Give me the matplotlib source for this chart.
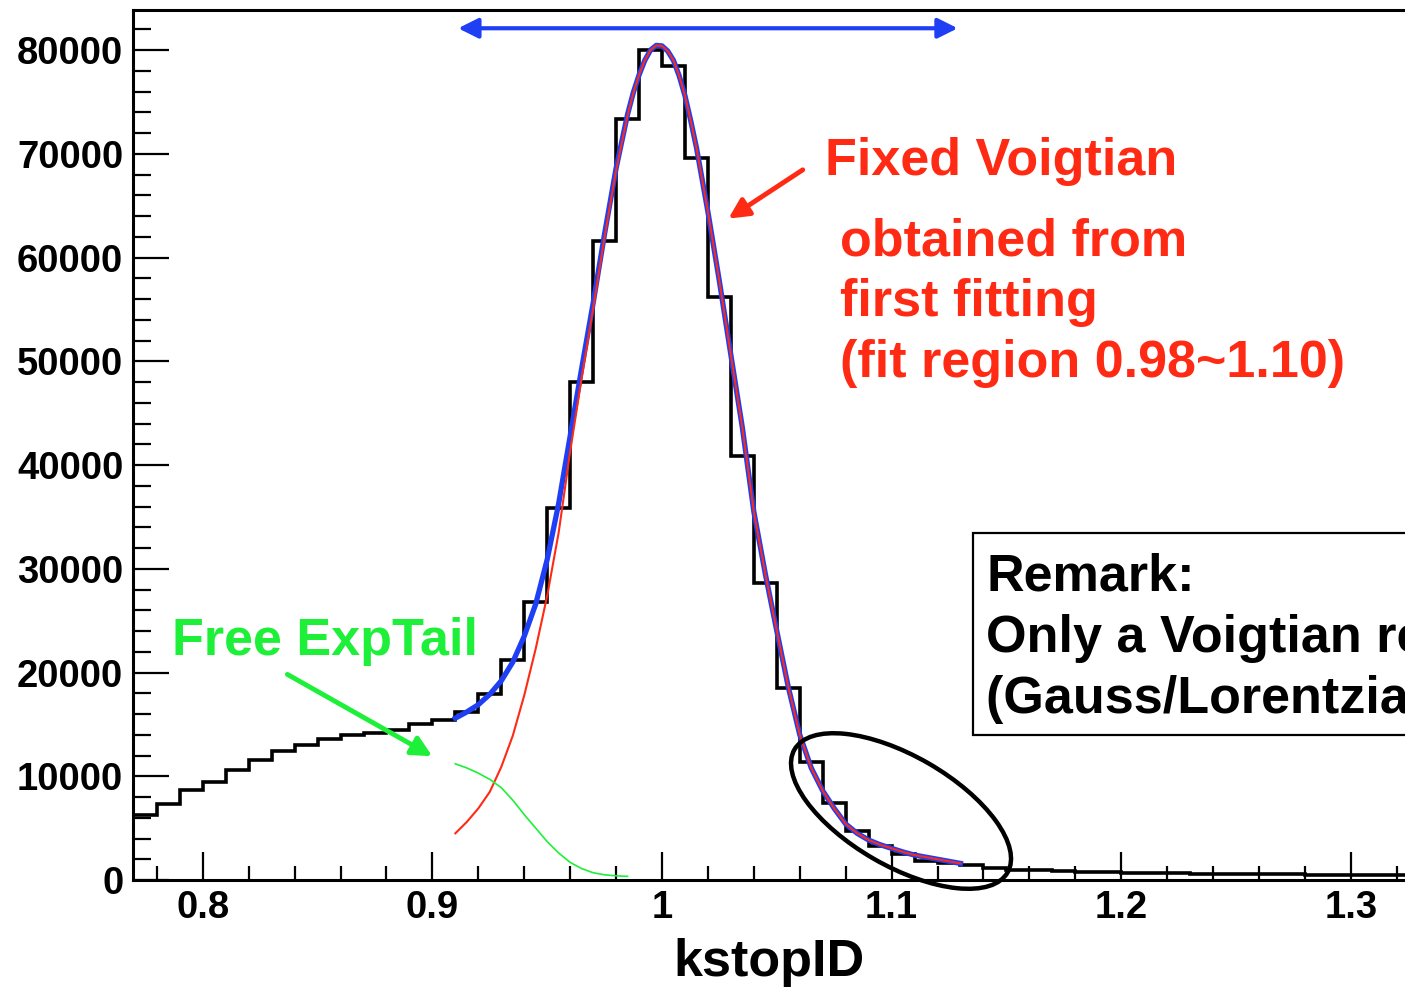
import numpy as np
import matplotlib
matplotlib.use('Agg')
from matplotlib import pyplot as plt
from matplotlib.patches import Ellipse, Rectangle
from matplotlib.transforms import ScaledTranslation

plt.rcParams['font.family'] = ['Liberation Sans', 'DejaVu Sans']
plt.rcParams['font.weight'] = 'bold'

# histogram (bin width 0.01), counts
bin_edges = np.round(np.arange(0.77, 1.3301, 0.01), 2)
counts = [6300, 7300, 8700, 9400, 10600, 11600, 12400, 13000, 13600, 14000,
          14200, 14500, 15000, 15400, 16200, 17900, 21200, 26800, 35900, 48000,
          61600, 73400, 80000, 78500, 69600, 56200, 40900, 28600, 18500, 11400,
          7400, 4750, 3300, 2500, 1800, 1600, 1450, 1150, 1000, 920,
          850, 800, 750, 720, 680, 650, 620, 600, 580, 560,
          540, 520, 500, 480, 460, 450]

# fit curves
fit_x = [0.910, 0.915, 0.920, 0.925, 0.930, 0.935, 0.940, 0.945, 0.950, 0.955,
         0.960, 0.965, 0.970, 0.975, 0.980, 0.985, 0.9875, 0.990, 0.9925, 0.995,
         0.9975, 1.000, 1.0025, 1.005, 1.0075, 1.010, 1.0125, 1.015, 1.020, 1.025,
         1.030, 1.035, 1.040, 1.045, 1.050, 1.055, 1.060, 1.065, 1.070, 1.075,
         1.080, 1.085, 1.090, 1.095, 1.100, 1.105, 1.110, 1.115, 1.120, 1.125,
         1.130]
total_fit = [15600, 16200, 16900, 17900, 19200, 21000, 23500, 26600, 30900, 36300,
             42800, 49300, 55600, 62300, 68600, 73800, 75900, 77600, 79000, 80000,
             80450, 80400, 79900, 79000, 77500, 75600, 73200, 70600, 64400, 57700,
             50600, 43600, 35500, 29500, 24000, 18600, 14000, 10800, 8600, 6900,
             5400, 4500, 3850, 3400, 3050, 2700, 2400, 2200, 2000, 1800,
             1600]
voigt_fit = [4500, 5600, 6900, 8500, 10900, 13900, 17800, 22300, 27400, 33500,
             41300, 48400, 55100, 62000, 68400, 73700, 75850, 77600, 79000, 80000,
             80450, 80400, 79900, 79000, 77500, 75600, 73200, 70600, 64400, 57700,
             50600, 43600, 35500, 29500, 24000, 18600, 14000, 10800, 8600, 6900,
             5400, 4500, 3850, 3400, 3050, 2700, 2400, 2200, 2000, 1800,
             1600]
tail_x = [0.910, 0.915, 0.920, 0.925, 0.930, 0.935, 0.940, 0.945, 0.950, 0.955,
          0.960, 0.965, 0.970, 0.975, 0.980, 0.985]
tail_fit = [11200, 10800, 10300, 9700, 8900, 7700, 6300, 5000, 3700, 2600,
            1700, 1100, 700, 500, 400, 350]

fit_range = [0.91, 1.13]

blue = '#1f3ff5'
red = '#ff2a14'
green = '#1ef03a'

fig = plt.figure(figsize=(14.05, 9.88), dpi=100)
ax = fig.add_axes([133 / 1405, 108 / 988, 1 - 133 / 1405, 870 / 988])
ax.set_xlim(0.7696, 1.3236)
ax.set_ylim(0, 83860)

ax.stairs(counts, bin_edges, baseline=None, color='black', lw=2.6, zorder=3)
ax.plot(fit_x, total_fit, color=blue, lw=3.8, zorder=4, solid_joinstyle='round')
ax.plot(fit_x, voigt_fit, color=red, lw=1.5, zorder=5)
ax.plot(tail_x, tail_fit, color=green, lw=1.2, zorder=5)

# axes in ROOT style
for s in ['left', 'bottom', 'top']:
    ax.spines[s].set_linewidth(2.2)
ax.spines['right'].set_visible(False)
ax.set_xticks(np.arange(0.8, 1.31, 0.1))
ax.set_xticklabels(['0.8', '0.9', '1', '1.1', '1.2', '1.3'])
ax.set_xticks(np.arange(0.78, 1.33, 0.02), minor=True)
ax.set_yticks(np.arange(0, 80001, 10000))
ax.set_yticks(np.arange(0, 83001, 2000), minor=True)
ax.tick_params(which='both', direction='in', width=1.6, labelsize=27.5, pad=7)
ax.tick_params(axis='x', which='major', length=20)
ax.tick_params(axis='x', which='minor', length=10)
ax.tick_params(axis='y', which='major', length=26)
ax.tick_params(axis='y', which='minor', length=13)
ax.set_xlabel('kstopID', fontsize=37.5, fontweight='bold', labelpad=9)

# annotations
ax.annotate('', xy=(fit_range[0], 82100), xytext=(fit_range[1], 82100),
            arrowprops=dict(arrowstyle='<|-|>', color=blue, lw=3, mutation_scale=30))

ax.text(1.071, 67950, 'Fixed Voigtian', color=red, fontsize=37.5, fontweight='bold')
ax.annotate('', xy=(1.0279, 63600), xytext=(1.0623, 68600),
            arrowprops=dict(arrowstyle='-|>', color=red, lw=3.5, mutation_scale=30))
red_lines = ['obtained from', 'first fitting', '(fit region 0.98~1.10)']
for i, line in enumerate(red_lines):
    ax.text(1.0777, 60200 - i * 5850, line, color=red, fontsize=37.5, fontweight='bold')

ax.text(0.7866, 21700, 'Free ExpTail', color=green, fontsize=37.5, fontweight='bold')
ax.annotate('', xy=(0.9010, 11800), xytext=(0.8358, 19950),
            arrowprops=dict(arrowstyle='-|>', color=green, lw=3.5, mutation_scale=30))

# ellipse around the right tail
trans = fig.dpi_scale_trans + ScaledTranslation(1.1041, 6650, ax.transData)
ax.add_patch(Ellipse((0, 0), 2.46, 1.10, angle=-30, fill=False, lw=3.2,
                     edgecolor='black', transform=trans, clip_on=False, zorder=6))

# remark box, cut by the figure edge as in the original slide
ax.add_patch(Rectangle((1.1356, 14000), 0.3, 19400, facecolor='white',
                       edgecolor='black', lw=1.6, clip_on=False, zorder=6))
remark_lines = ['Remark:', 'Only a Voigtian resolution', '(Gauss/Lorentzian convolution)']
for i, line in enumerate(remark_lines):
    ax.text(1.1412, 27900 - i * 5900, line, color='black', fontsize=37.5,
            fontweight='bold', zorder=7)

fig.savefig('out.png', dpi=100)
